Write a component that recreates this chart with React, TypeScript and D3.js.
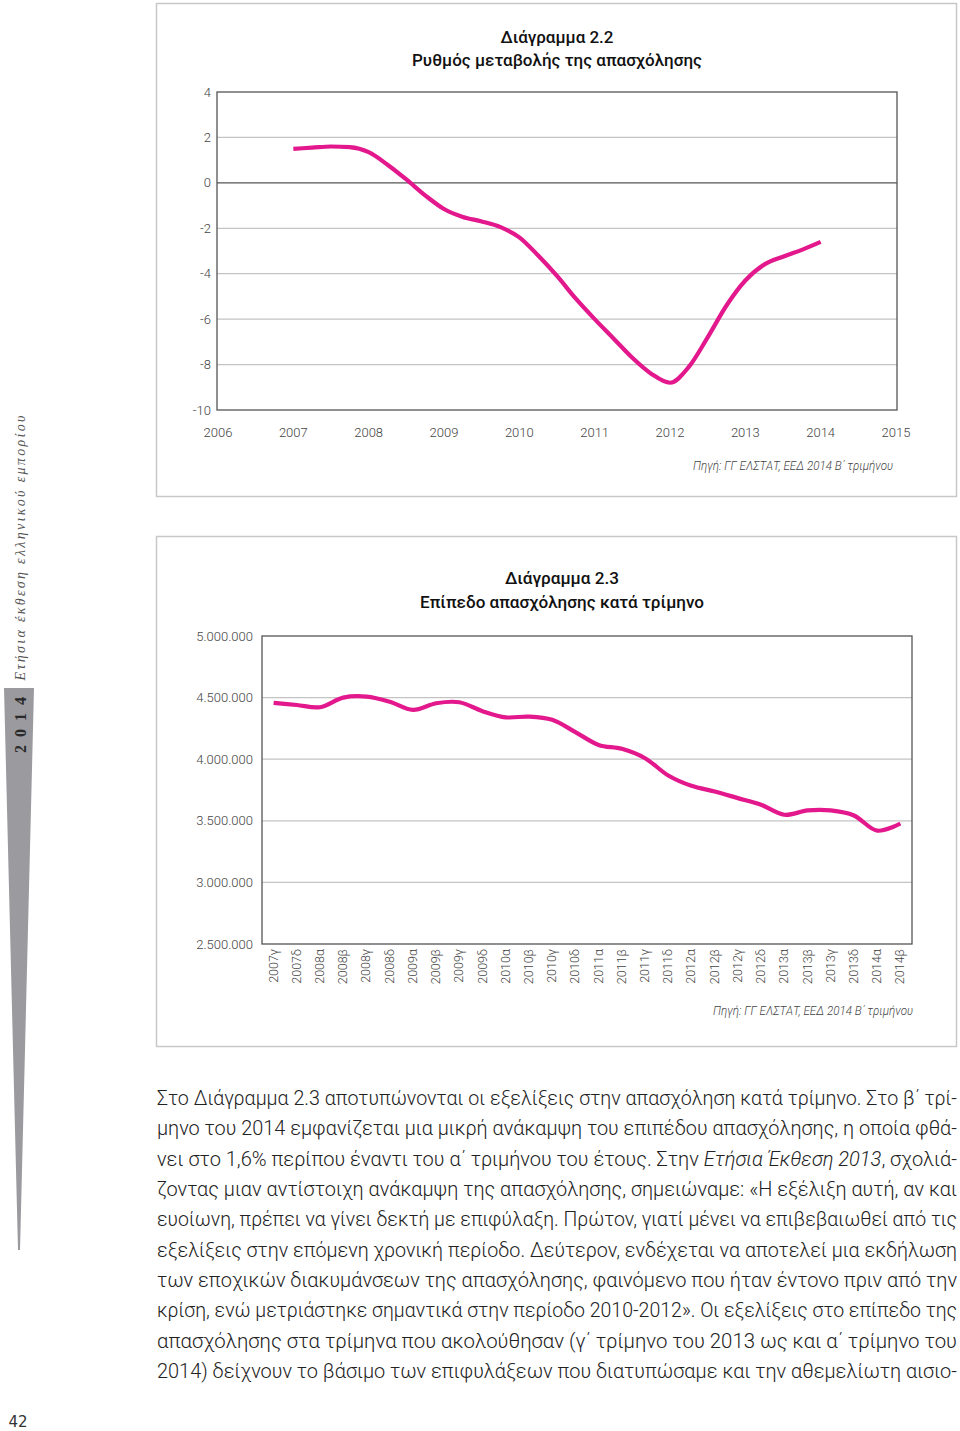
import React from "react";
import * as d3 from "d3";

// ---------- Chart 2.2 data (quarterly, % change) ----------
const rateX: number[] = [
  2007, 2007.25, 2007.5, 2007.75, 2008, 2008.25, 2008.5, 2008.75, 2009, 2009.25, 2009.5, 2009.75,
  2010, 2010.25, 2010.5, 2010.75, 2011, 2011.25, 2011.5, 2011.75, 2012, 2012.25, 2012.5, 2012.75,
  2013, 2013.25, 2013.5, 2013.75, 2014,
];
const rateY: number[] = [
  1.5, 1.55, 1.6, 1.57, 1.35, 0.8, 0.15, -0.55, -1.15, -1.5, -1.7, -1.95,
  -2.4, -3.2, -4.1, -5.1, -6.0, -6.85, -7.7, -8.4, -8.8, -8.1, -6.8, -5.4,
  -4.3, -3.6, -3.25, -2.95, -2.6,
];
const rateYTicks: number[] = [4, 2, 0, -2, -4, -6, -8, -10];
const rateXTicks: number[] = [2006, 2007, 2008, 2009, 2010, 2011, 2012, 2013, 2014, 2015];

// ---------- Chart 2.3 data (employment level per quarter) ----------
const quarters: string[] = [
  "2007γ", "2007δ", "2008α", "2008β", "2008γ", "2008δ", "2009α", "2009β", "2009γ", "2009δ",
  "2010α", "2010β", "2010γ", "2010δ", "2011α", "2011β", "2011γ", "2011δ", "2012α", "2012β",
  "2012γ", "2012δ", "2013α", "2013β", "2013γ", "2013δ", "2014α", "2014β",
];
const employment: number[] = [
  4457000, 4440000, 4422000, 4500000, 4508000, 4467000, 4400000, 4454000, 4462000, 4390000,
  4340000, 4346000, 4320000, 4220000, 4116000, 4084000, 4008000, 3868000, 3784000, 3738000,
  3684000, 3630000, 3549000, 3584000, 3584000, 3543000, 3420000, 3478000,
];
const empTicks: number[] = [5000000, 4500000, 4000000, 3500000, 3000000, 2500000];

const title22a = "Διάγραμμα 2.2";
const title22b = "Ρυθμός μεταβολής της απασχόλησης";
const title23a = "Διάγραμμα 2.3";
const title23b = "Επίπεδο απασχόλησης κατά τρίμηνο";
const sourceText = "Πηγή: ΓΓ ΕΛΣΤΑΤ, ΕΕΔ 2014 Β΄ τριμήνου";

const bodyLines: string[][] = [
  ["Στο Διάγραμμα 2.3 αποτυπώνονται οι εξελίξεις στην απασχόληση κατά τρίμηνο. Στο β΄ τρί-"],
  ["μηνο του 2014 εμφανίζεται μια μικρή ανάκαμψη του επιπέδου απασχόλησης, η οποία φθά-"],
  ["νει στο 1,6% περίπου έναντι του α΄ τριμήνου του έτους. Στην ", "Ετήσια Έκθεση 2013", ", σχολιά-"],
  ["ζοντας μιαν αντίστοιχη ανάκαμψη της απασχόλησης, σημειώναμε: «Η εξέλιξη αυτή, αν και"],
  ["ευοίωνη, πρέπει να γίνει δεκτή με επιφύλαξη. Πρώτον, γιατί μένει να επιβεβαιωθεί από τις"],
  ["εξελίξεις στην επόμενη χρονική περίοδο. Δεύτερον, ενδέχεται να αποτελεί μια εκδήλωση"],
  ["των εποχικών διακυμάνσεων της απασχόλησης, φαινόμενο που ήταν έντονο πριν από την"],
  ["κρίση, ενώ μετριάστηκε σημαντικά στην περίοδο 2010-2012». Οι εξελίξεις στο επίπεδο της"],
  ["απασχόλησης στα τρίμηνα που ακολούθησαν (γ΄ τρίμηνο του 2013 ως και α΄ τρίμηνο του"],
  ["2014) δείχνουν το βάσιμο των επιφυλάξεων που διατυπώσαμε και την αθεμελίωτη αισιο-"],
];

const PINK = "#e2188c";
const FONT = "Roboto, 'Noto Sans', sans-serif";

function fmtThousands(v: number): string {
  return d3.format(",")(v).replace(/,/g, ".");
}

export default function App() {
  // Chart 1 scales
  const x1 = d3.scaleLinear().domain([2006, 2015]).range([218, 896]);
  const y1 = d3.scaleLinear().domain([-10, 4]).range([410, 92]);
  const line1 = d3
    .line<number>()
    .x((_, i) => x1(rateX[i]))
    .y((d) => y1(d))
    .curve(d3.curveMonotoneX);

  // Chart 2 scales
  const x2 = d3.scaleBand<string>().domain(quarters).range([262, 912]).padding(0);
  const y2 = d3.scaleLinear().domain([2500000, 5000000]).range([944, 636]);
  const line2 = d3
    .line<number>()
    .x((_, i) => (x2(quarters[i]) as number) + x2.bandwidth() / 2)
    .y((d) => y2(d))
    .curve(d3.curveCatmullRom.alpha(0.5));

  return (
    <svg
      width={960}
      height={1431}
      viewBox="0 0 960 1431"
      style={{ position: "absolute", left: 0, top: 0, background: "#fff" }}
      fontFamily={FONT}
    >
      <rect x={0} y={0} width={960} height={1431} fill="#fff" />

      {/* Sidebar wedge */}
      <polygon points="4,688 34,688 20,1250 18,1250" fill="#9b9b9f" />
      <text
        transform="translate(26,725) rotate(-90)"
        textAnchor="middle"
        fontFamily="'Liberation Serif', 'DejaVu Serif', serif"
        fontWeight="bold"
        fontSize={16}
        fill="#2a2a2a"
        textLength={56}
        lengthAdjust="spacing"
      >
        2014
      </text>
      <text
        transform="translate(25,548) rotate(-90)"
        textAnchor="middle"
        fontFamily="'Liberation Serif', 'DejaVu Serif', serif"
        fontStyle="italic"
        fontSize={14}
        fill="#555"
        textLength={265}
        lengthAdjust="spacing"
      >
        Ετήσια έκθεση ελληνικού εμπορίου
      </text>

      {/* ---------------- Chart 2.2 ---------------- */}
      <rect x={156.5} y={3.5} width={800} height={493} fill="#fff" stroke="#c8c8c8" strokeWidth={1.5} />
      <text x={557} y={43} textAnchor="middle" fontSize={17} fontWeight={500} fill="#111" textLength={113} lengthAdjust="spacingAndGlyphs">
        {title22a}
      </text>
      <text x={557} y={66} textAnchor="middle" fontSize={17} fontWeight={500} fill="#111" textLength={290} lengthAdjust="spacingAndGlyphs">
        {title22b}
      </text>
      {rateYTicks.map((t) => (
        <g key={"g1" + t}>
          {t !== 4 && t !== -10 && (
            <line
              x1={217}
              x2={897}
              y1={y1(t)}
              y2={y1(t)}
              stroke={t === 0 ? "#555" : "#c4c4c4"}
              strokeWidth={t === 0 ? 1.2 : 1.2}
            />
          )}
          <text x={211} y={y1(t)} dy="0.35em" textAnchor="end" fontSize={13} fontWeight={300} fill="#444">
            {t}
          </text>
        </g>
      ))}
      <rect x={217} y={92} width={680} height={318} fill="none" stroke="#555" strokeWidth={1.3} />
      {rateXTicks.map((t) => (
        <text key={"x1" + t} x={x1(t)} y={432} dy="0.35em" textAnchor="middle" fontSize={13} fontWeight={300} fill="#444">
          {t}
        </text>
      ))}
      <path d={line1(rateY) || ""} fill="none" stroke={PINK} strokeWidth={4.2} strokeLinejoin="round" />
      <text x={893} y={470} textAnchor="end" fontSize={12} fontStyle="italic" fontWeight={300} fill="#444" textLength={200} lengthAdjust="spacingAndGlyphs">
        {sourceText}
      </text>

      {/* ---------------- Chart 2.3 ---------------- */}
      <rect x={156.5} y={536.5} width={800} height={510} fill="#fff" stroke="#c8c8c8" strokeWidth={1.5} />
      <text x={562} y={584} textAnchor="middle" fontSize={17} fontWeight={500} fill="#111" textLength={114} lengthAdjust="spacingAndGlyphs">
        {title23a}
      </text>
      <text x={562} y={608} textAnchor="middle" fontSize={17} fontWeight={500} fill="#111" textLength={284} lengthAdjust="spacingAndGlyphs">
        {title23b}
      </text>
      {empTicks.map((t) => (
        <g key={"g2" + t}>
          {t !== 5000000 && t !== 2500000 && (
            <line x1={262} x2={912} y1={y2(t)} y2={y2(t)} stroke="#c4c4c4" strokeWidth={1.2} />
          )}
          <text x={253} y={y2(t)} dy="0.35em" textAnchor="end" fontSize={13} fontWeight={300} fill="#444">
            {fmtThousands(t)}
          </text>
        </g>
      ))}
      <rect x={262} y={636} width={650} height={308} fill="none" stroke="#555" strokeWidth={1.3} />
      {quarters.map((q) => {
        const cx = (x2(q) as number) + x2.bandwidth() / 2;
        return (
          <text
            key={"q" + q}
            transform={`translate(${cx + 4},${949}) rotate(-90)`}
            textAnchor="end"
            fontSize={12.5}
            fontWeight={300}
            fill="#444"
          >
            {q}
          </text>
        );
      })}
      <path d={line2(employment) || ""} fill="none" stroke={PINK} strokeWidth={4.2} strokeLinejoin="round" />
      <text x={913} y={1015} textAnchor="end" fontSize={12} fontStyle="italic" fontWeight={300} fill="#444" textLength={200} lengthAdjust="spacingAndGlyphs">
        {sourceText}
      </text>

      {/* ---------------- Body text ---------------- */}
      {bodyLines.map((parts, i) => (
        <text
          key={"b" + i}
          x={157}
          y={1105 + i * 30.35}
          fontSize={21}
          fontWeight={300}
          fill="#222"
          textLength={800}
          lengthAdjust="spacingAndGlyphs"
        >
          {parts.map((p, j) => (
            <tspan key={j} fontStyle={parts.length === 3 && j === 1 ? "italic" : "normal"}>
              {p}
            </tspan>
          ))}
        </text>
      ))}

      {/* Page number */}
      <text x={18} y={1427} textAnchor="middle" fontFamily="'DejaVu Sans', sans-serif" fontSize={15} fill="#333">
        42
      </text>
    </svg>
  );
}
